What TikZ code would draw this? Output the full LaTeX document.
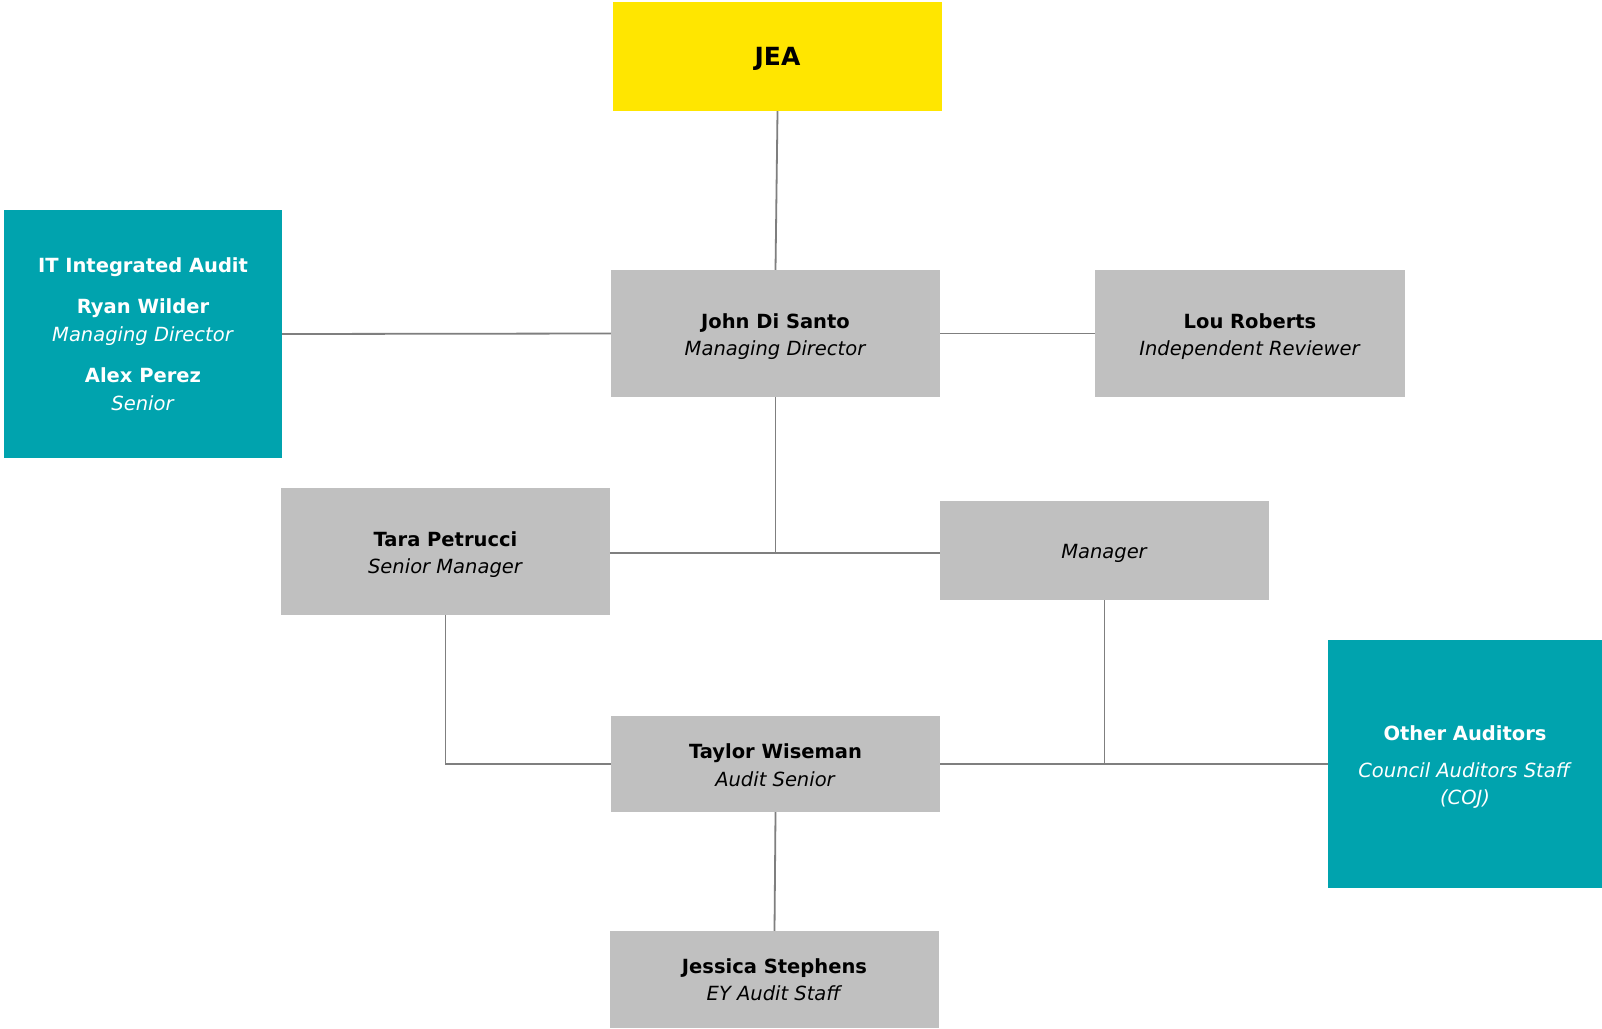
\documentclass[tikz,border=0pt]{standalone}
\usepackage{fontspec}
\setmainfont{DejaVu Sans}
\definecolor{eyyellow}{HTML}{FFE600}
\definecolor{boxgray}{HTML}{C0C0C0}
\definecolor{teal}{HTML}{00A3AE}
\definecolor{linegray}{HTML}{7F7F7F}
\newcommand{\dn}{\rule{0pt}{21pt}}
\newcommand{\dnsm}{\rule{0pt}{17pt}}
\begin{document}
\begin{tikzpicture}[x=1pt,y=-1pt,
  box/.style={rectangle, inner sep=0pt, align=center, text=black,
    font=\fontsize{19.5}{27.5}\selectfont},
  graybox/.style={box, fill=boxgray},
  tealbox/.style={box, fill=teal, text=white},
  conn/.style={draw=linegray, line width=1.8pt}]
\fill[white] (0,0) rectangle (1602,1028);
\useasboundingbox (0,0) rectangle (1602,1028);

\node[box, fill=eyyellow, minimum width=329pt, minimum height=109pt, font=\fontsize{25}{27}\selectfont\bfseries] (jea) at (777.5,56.5) {\rule{0pt}{23pt}JEA};

\node[graybox, minimum width=329pt, minimum height=127pt] (john) at (775.5,333.5)
  {\dn\textbf{John Di Santo}\\\textit{Managing Director}};

\node[graybox, minimum width=310pt, minimum height=127pt] (lou) at (1250,333.5)
  {\dn\textbf{Lou Roberts}\\\textit{Independent Reviewer}};

\node[tealbox, minimum width=278pt, minimum height=248pt] (it) at (143,334)
  {\textbf{IT Integrated Audit}\\[14pt]\textbf{Ryan Wilder}\\\textit{Managing Director}\\[14pt]\textbf{Alex Perez}\\\textit{Senior}};

\node[graybox, minimum width=329pt, minimum height=127pt] (tara) at (445.5,551.5)
  {\dn\textbf{Tara Petrucci}\\\textit{Senior Manager}};

\node[graybox, minimum width=329pt, minimum height=99pt] (manager) at (1104.5,550.5)
  {\dn\textit{Manager}};

\node[graybox, minimum width=329pt, minimum height=96pt] (taylor) at (775.5,764)
  {\dnsm\textbf{Taylor Wiseman}\\\textit{Audit Senior}};

\node[graybox, minimum width=329pt, minimum height=97pt] (jessica) at (774.5,979.5)
  {\textbf{Jessica Stephens}\\\textit{EY Audit Staff}};

\node[tealbox, minimum width=274pt, minimum height=248pt] (other) at (1465,764)
  {\dn\textbf{Other Auditors}\\[9pt]\textit{Council Auditors Staff}\\\textit{(COJ)}};

\coordinate (mid) at (john.south |- 0,553);
\coordinate (tl) at (tara.east |- 0,553);
\coordinate (ml) at (manager.west |- 0,553);

\draw[conn] (jea.south) -- (john.north);
\draw[conn] (it.east) -- (john.west);
\draw[conn] (john.east) -- (lou.west);
\draw[conn] (john.south) -- (mid);
\draw[conn] (tl) -- (ml);
\draw[conn] (tara.south) |- (taylor.west);
\draw[conn] (taylor.east) -- (other.west);
\draw[conn] (manager.south) -- (manager.south |- taylor.east);
\draw[conn] (taylor.south) -- (jessica.north);
\end{tikzpicture}
\end{document}
